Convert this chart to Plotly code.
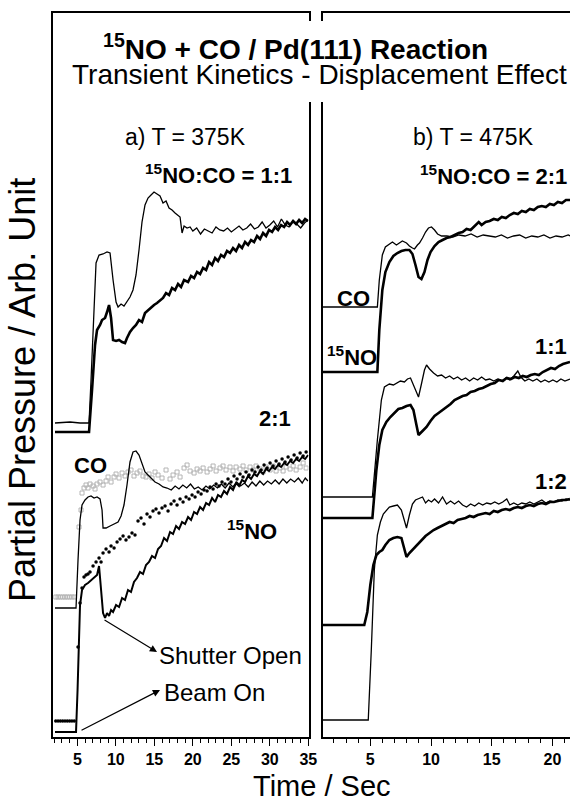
import plotly.graph_objects as go

# ---------------- data (time in s, partial pressure in arb. units) ----------------
# Panel a) T = 375K, 15NO:CO = 1:1
L11_CO_t = [2.10, 4.05, 5.35, 6.52, 6.78, 7.17, 7.43, 7.82, 8.34, 8.86, 9.25, 9.64, 10.03, 10.29, 10.68, 11.06,
            11.45, 11.84, 12.23, 12.62, 13.01, 13.40, 13.79, 14.18, 14.57, 14.96, 15.35, 15.74, 16.13, 16.52,
            16.91, 17.30, 17.69, 18.08, 18.34, 18.60, 18.86, 19.25, 19.64, 20.0, 20.5, 21.0, 21.5, 22.0, 22.5,
            23.0, 23.5, 24.0, 24.5, 25.0, 25.5, 26.0, 26.5, 27.0, 27.5, 28.0, 28.5, 29.0, 29.5, 30.0, 30.5,
            31.0, 31.5, 32.0, 32.5, 33.0, 33.5, 34.0, 34.5, 34.95]
L11_CO_v = [31.4, 31.5, 31.4, 31.4, 35.7, 43.7, 47.4, 48.2, 48.3, 48.5, 48.4, 45.7, 43.5, 43.0, 43.3, 43.1,
            43.5, 44.0, 44.7, 46.2, 48.7, 51.5, 53.2, 53.9, 54.2, 54.5, 54.3, 54.1, 53.4, 53.6,
            52.9, 52.7, 52.4, 52.2, 52.0, 50.4, 51.1, 50.9, 51.0, 50.6, 50.9, 50.3, 50.8, 50.6, 50.4,
            51.0, 50.7, 50.6, 50.9, 50.5, 50.8, 51.1, 50.7, 50.9, 51.3, 50.8, 51.0, 51.5, 50.9, 51.2, 51.6,
            51.0, 51.8, 51.2, 51.0, 51.6, 51.3, 50.9, 51.4, 51.7]

L11_NO_t = [2.10, 6.52, 6.91, 7.30, 7.56, 7.95, 8.21, 8.60, 8.86, 9.12, 9.38, 9.64, 10.03, 10.42, 10.81, 11.19,
            11.45, 11.84, 12.23, 12.62, 13.01, 13.40, 13.79, 14.18, 14.57, 14.96, 15.35, 15.74, 16.13, 16.52,
            16.91, 17.30, 17.69, 18.08, 18.47, 18.86, 19.38, 19.77, 20.16, 20.55, 20.94, 21.33, 21.72, 22.11,
            22.50, 22.89, 23.27, 23.66, 24.05, 24.44, 24.83, 25.22, 25.61, 26.00, 26.39, 26.78, 27.17, 27.56,
            27.95, 28.34, 28.73, 29.12, 29.51, 29.90, 30.29, 30.68, 31.07, 31.46, 31.85, 32.24, 32.63, 33.02,
            33.41, 33.80, 34.19, 34.58, 34.97]
L11_NO_v = [30.5, 30.5, 34.7, 39.2, 40.7, 41.2, 41.7, 41.9, 42.5, 43.2, 41.9, 39.7, 39.6, 39.7, 39.5, 39.4,
            39.9, 40.5, 40.9, 41.2, 41.7, 41.5, 42.4, 42.7, 43.0, 43.2, 43.4, 43.7, 43.9, 44.4,
            44.2, 44.9, 44.7, 45.3, 45.0, 45.7, 45.5, 46.1, 45.9, 46.5, 46.3, 46.9, 46.7, 47.5,
            47.2, 47.9, 47.6, 48.2, 48.0, 48.6, 48.4, 48.9, 48.6, 49.2, 48.9, 49.5, 49.2, 49.7,
            49.5, 50.1, 49.8, 50.4, 50.1, 50.7, 50.5, 51.0, 50.7, 51.2, 51.0, 51.5, 51.2, 51.6,
            51.3, 51.7, 51.4, 51.8, 51.6]

# Panel a) 15NO:CO = 2:1
L21_CO_t = [2.10, 4.83, 5.09, 5.35, 5.61, 6.00, 6.39, 6.78, 7.17, 7.56, 7.95, 8.21, 8.34, 8.73, 9.25, 9.77,
            10.29, 10.68, 11.06, 11.45, 11.84, 12.23, 12.62, 13.01, 13.40, 13.79, 14.18, 14.57, 15.09, 15.61,
            16.13, 16.65, 17.2, 17.7, 18.2, 18.7, 19.2, 19.7, 20.2, 20.7, 21.2, 21.7, 22.2, 22.7, 23.2, 23.7,
            24.2, 24.7, 25.2, 25.7, 26.2, 26.7, 27.2, 27.7, 28.2, 28.7, 29.2, 29.7, 30.2, 30.7, 31.2, 31.7,
            32.2, 32.7, 33.2, 33.7, 34.2, 34.6, 34.95]
L21_CO_v = [12.9, 12.9, 17.7, 21.7, 23.2, 23.7, 24.0, 24.1, 23.9, 24.0, 23.8, 22.7, 20.9, 20.9, 21.1, 21.3,
            21.5, 22.1, 23.2, 25.2, 27.5, 28.5, 28.6, 28.2, 27.4, 26.5, 26.2, 25.9, 25.5, 25.3,
            25.0, 24.9, 24.7, 25.1, 24.8, 25.2, 24.9, 25.3, 24.8, 25.0, 24.7, 25.1, 24.8, 25.2, 24.9, 25.3,
            24.9, 25.4, 25.0, 25.5, 25.1, 25.4, 25.0, 25.5, 25.1, 25.6, 25.2, 25.6, 25.3, 25.7, 25.3, 25.8,
            25.4, 25.8, 25.5, 25.9, 25.4, 25.9, 25.6]

L21_COpts_t = [2.2, 2.5, 2.8, 3.1, 3.4, 3.7, 4.0, 4.3, 4.6, 5.22, 5.48, 5.61, 5.87, 6.13, 6.39, 6.65, 7.04,
               7.30, 7.56, 7.95, 8.34, 8.73, 8.99, 9.38, 9.77, 10.03, 10.42, 10.81, 11.20, 11.58, 11.97,
               12.36, 12.75, 13.14, 13.53, 13.92, 14.31, 14.70, 15.09, 15.48, 16.00, 16.52, 17.04, 17.43,
               17.95, 18.34, 18.86, 19.25, 19.64, 20.16, 20.55, 20.94, 21.33, 21.85, 22.24, 22.63, 23.02,
               23.53, 23.92, 24.31, 24.83, 25.22, 25.61, 26.13, 26.52, 26.91, 27.43, 27.82, 28.21, 28.73,
               29.12, 29.51, 30.03, 30.42, 30.81, 31.33, 31.72, 32.11, 32.63, 33.02, 33.41, 33.93, 34.32, 34.71]
L21_COpts_v = [14.0, 14.0, 14.0, 14.0, 14.0, 14.0, 14.0, 14.0, 14.0, 21.0, 22.7, 24.4, 24.9, 25.2, 24.9, 25.3,
               25.1, 24.8, 25.3, 25.5, 25.2, 25.6, 26.0, 25.5, 26.0, 26.3, 25.9, 26.4, 26.1, 26.5, 26.7,
               26.1, 26.4, 26.6, 26.1, 26.0, 26.3, 25.9, 26.5, 26.2, 25.9, 26.7, 25.8, 26.2, 26.5, 26.0,
               26.9, 27.2, 26.6, 26.4, 26.8, 26.6, 26.9, 26.5, 26.8, 27.1, 26.6, 26.9, 27.1, 26.7, 27.0,
               26.6, 27.0, 26.8, 27.1, 26.7, 27.0, 26.7, 27.1, 26.8, 26.5, 27.0, 26.7, 27.1, 26.6, 26.9,
               26.6, 27.0, 26.8, 27.1, 26.7, 27.0, 27.4, 26.9]

L21_NO_t = [2.10, 4.83, 5.03, 5.22, 5.35, 5.61, 6.00, 6.39, 6.78, 7.17, 7.56, 7.82, 8.08, 8.34, 8.60, 8.86,
            9.12, 9.38, 9.64, 10.03, 10.42, 10.81, 11.19, 11.58, 11.97, 12.36, 12.75, 13.14, 13.53, 13.92,
            14.31, 14.70, 15.09, 15.48, 15.87, 16.26, 16.65, 17.04, 17.43, 17.82, 18.21, 18.60, 18.99, 19.38,
            19.77, 20.16, 20.55, 20.94, 21.33, 21.72, 22.11, 22.50, 22.89, 23.27, 23.66, 24.05, 24.44, 24.83,
            25.22, 25.61, 26.00, 26.39, 26.78, 27.17, 27.56, 27.95, 28.34, 28.73, 29.12, 29.51, 29.90, 30.29,
            30.68, 31.07, 31.46, 31.85, 32.24, 32.63, 33.02, 33.41, 33.80, 34.19, 34.58, 34.97]
L21_NO_v = [0.5, 0.5, 4.7, 9.7, 13.2, 14.7, 15.2, 15.4, 15.7, 15.9, 16.2, 17.1, 14.7, 12.4, 11.9, 12.4,
            12.1, 12.7, 12.5, 13.2, 13.0, 13.9, 13.7, 14.7, 14.5, 15.5, 15.9, 16.5, 16.3, 17.2,
            17.5, 18.1, 17.9, 18.8, 19.1, 19.9, 19.6, 20.5, 20.3, 21.1, 20.8, 21.5, 21.3, 22.0,
            21.7, 22.5, 22.3, 23.0, 22.7, 23.4, 23.2, 23.9, 23.5, 24.2, 24.0, 24.6, 24.3, 25.0,
            24.7, 25.4, 25.1, 25.7, 25.5, 26.1, 25.8, 26.3, 26.1, 26.6, 26.3, 26.8, 26.6, 27.0,
            26.8, 27.2, 27.0, 27.4, 27.2, 27.6, 27.4, 27.8, 27.6, 28.0, 27.8, 28.2]

L21_NOpts_t = [2.2, 2.5, 2.8, 3.1, 3.4, 3.7, 4.0, 4.3, 4.6, 5.09, 5.35, 5.61, 5.87, 6.13, 6.39, 6.65, 7.04,
               7.43, 7.82, 8.08, 8.34, 8.73, 9.12, 9.38, 9.77, 10.16, 10.55, 10.94, 11.32, 11.71, 12.10,
               12.49, 12.88, 13.27, 13.66, 14.05, 14.44, 14.83, 15.22, 15.61, 16.00, 16.39, 16.78, 17.17,
               17.56, 17.95, 18.34, 18.73, 19.12, 19.51, 19.90, 20.29, 20.68, 21.07, 21.46, 21.85, 22.24,
               22.63, 23.02, 23.40, 23.79, 24.18, 24.57, 24.96, 25.35, 25.74, 26.13, 26.52, 26.91, 27.30,
               27.69, 28.08, 28.47, 28.86, 29.25, 29.64, 30.03, 30.42, 30.81, 31.20, 31.59, 31.98, 32.37,
               32.76, 33.15, 33.54, 33.93, 34.32, 34.71]
L21_NOpts_v = [1.6, 1.6, 1.6, 1.6, 1.6, 1.6, 1.6, 1.6, 1.6, 9.0, 13.4, 14.9, 16.0, 16.2, 16.3, 16.5, 17.1,
               17.5, 17.9, 17.5, 18.4, 18.8, 18.5, 19.1, 18.9, 19.5, 19.8, 20.1, 19.7, 20.0, 20.4,
               20.2, 21.6, 21.9, 21.3, 22.3, 22.0, 22.6, 22.8, 22.4, 22.9, 23.1, 22.6, 23.3,
               23.6, 23.2, 23.8, 23.5, 24.0, 23.8, 24.2, 24.0, 24.5, 24.3, 24.7, 24.6, 25.0,
               24.8, 25.3, 25.1, 25.5, 25.3, 25.8, 25.5, 26.1, 25.8, 26.3, 26.0, 26.5, 26.2,
               26.7, 26.5, 27.0, 26.7, 27.2, 26.9, 27.4, 27.1, 27.6, 27.3, 27.8, 27.5, 28.0,
               27.7, 28.2, 27.9, 28.4, 28.1, 28.5]

# Panel b) T = 475K, 15NO:CO = 2:1
R21_CO_t = [1.03, 5.58, 5.74, 5.99, 6.24, 6.57, 6.82, 7.15, 7.40, 7.64, 7.98, 8.22, 8.47, 8.64, 8.88, 9.05,
            9.30, 9.55, 9.79, 10.04, 10.29, 10.54, 10.87, 11.3, 11.8, 12.3, 12.8, 13.3, 13.8, 14.3, 14.8,
            15.3, 15.8, 16.3, 16.8, 17.3, 17.8, 18.3, 18.8, 19.3, 19.8, 20.3, 20.8, 21.3, 21.5]
R21_CO_v = [43.0, 43.0, 45.7, 48.2, 49.0, 49.3, 49.5, 49.2, 49.4, 49.6, 49.4, 49.1, 48.9, 48.8, 49.2, 49.4,
            49.9, 50.5, 50.9, 51.0, 50.7, 50.3, 50.1, 50.1, 50.0, 50.2, 50.1, 50.3, 50.0, 50.2, 50.1,
            50.0, 50.2, 49.9, 50.1, 50.2, 49.9, 50.1, 50.0, 50.2, 49.9, 50.1, 50.0, 50.2, 50.1]

R21_NO_t = [1.03, 5.58, 5.74, 5.99, 6.24, 6.57, 6.90, 7.23, 7.56, 7.89, 8.22, 8.47, 8.72, 8.97, 9.21, 9.46,
            9.71, 9.96, 10.29, 10.62, 10.95, 11.28, 11.61, 11.94, 12.28, 12.60, 12.93, 13.26, 13.60, 13.93,
            14.17, 14.50, 14.83, 15.17, 15.50, 15.83, 16.16, 16.49, 16.82, 17.15, 17.48, 17.81, 18.14, 18.47,
            18.80, 19.13, 19.46, 19.79, 20.12, 20.45, 20.79, 21.12, 21.45]
R21_NO_v = [36.5, 36.5, 40.7, 44.7, 46.5, 47.5, 48.1, 48.4, 48.6, 48.7, 48.7, 48.3, 47.2, 46.0, 45.8, 46.5,
            47.7, 48.5, 49.1, 49.5, 49.7, 49.9, 50.0, 50.2, 50.4, 50.5, 50.8, 50.7, 51.1, 51.5,
            51.2, 51.5, 51.6, 51.8, 51.7, 52.0, 51.9, 52.2, 52.4, 52.3, 52.6, 52.5, 52.8, 52.7,
            53.0, 53.1, 53.0, 53.3, 53.2, 53.5, 53.4, 53.7, 53.7]

# Panel b) 15NO:CO = 1:1
R11_CO_t = [1.03, 5.17, 5.58, 5.91, 6.16, 6.57, 6.90, 7.15, 7.48, 7.81, 8.06, 8.31, 8.55, 8.80, 8.97, 9.21,
            9.46, 9.63, 9.88, 10.21, 10.54, 10.87, 11.20, 11.53, 11.86, 12.19, 12.52, 12.85, 13.18, 13.51,
            13.84, 14.17, 14.50, 14.83, 15.17, 15.50, 15.83, 16.16, 16.49, 16.82, 17.15, 17.40, 17.73, 18.06,
            18.39, 18.72, 19.05, 19.38, 19.71, 20.04, 20.37, 20.70, 21.03, 21.45]
R11_CO_v = [24.0, 24.0, 29.7, 33.7, 35.0, 35.3, 35.2, 35.4, 35.6, 35.5, 35.8, 35.9, 35.2, 34.5, 34.0, 35.3,
            36.7, 37.2, 36.8, 36.4, 36.1, 36.2, 35.9, 36.1, 35.8, 36.0, 35.7, 35.9, 35.6, 35.9,
            35.7, 36.0, 35.7, 35.8, 35.6, 35.8, 35.6, 35.9, 35.7, 36.1, 36.6, 36.0, 35.6, 35.8,
            35.6, 35.8, 35.5, 35.7, 35.5, 35.7, 35.5, 35.8, 35.6, 35.8]

R11_NO_t = [1.03, 5.17, 5.50, 5.74, 5.99, 6.32, 6.65, 6.98, 7.31, 7.64, 7.98, 8.31, 8.55, 8.80, 8.97, 9.30,
            9.63, 9.96, 10.29, 10.62, 10.95, 11.28, 11.61, 11.94, 12.27, 12.60, 12.93, 13.26, 13.60, 13.93,
            14.26, 14.59, 14.92, 15.25, 15.58, 15.91, 16.24, 16.57, 16.90, 17.23, 17.56, 17.89, 18.22, 18.55,
            18.88, 19.21, 19.55, 19.88, 20.21, 20.54, 20.87, 21.20, 21.45]
R11_NO_v = [21.9, 21.9, 26.7, 29.2, 30.7, 31.5, 32.0, 32.4, 32.8, 32.9, 33.1, 33.2, 32.7, 31.2, 30.2, 30.6,
            31.0, 31.6, 32.1, 32.4, 32.7, 33.0, 33.3, 33.7, 33.9, 34.1, 34.2, 34.5, 34.6, 34.8,
            34.9, 35.1, 35.3, 35.4, 35.7, 35.6, 35.9, 35.8, 36.0, 35.9, 36.1, 36.0, 36.2, 36.3,
            36.2, 36.5, 36.7, 36.9, 36.8, 37.1, 37.3, 37.4, 37.5]

# Panel b) 15NO:CO = 1:2
R12_CO_t = [1.03, 4.83, 5.08, 5.33, 5.58, 5.83, 6.07, 6.32, 6.57, 6.90, 7.23, 7.56, 7.81, 7.98, 8.22, 8.47,
            8.72, 9.05, 9.30, 9.55, 9.79, 10.04, 10.29, 10.62, 10.95, 11.28, 11.61, 11.94, 12.27, 12.60,
            12.93, 13.26, 13.60, 13.93, 14.26, 14.59, 14.92, 15.25, 15.58, 15.91, 16.24, 16.49, 16.82, 17.15,
            17.48, 17.81, 18.14, 18.47, 18.80, 19.13, 19.46, 19.79, 20.12, 20.45, 20.79, 21.12, 21.45]
R12_CO_v = [1.7, 1.7, 8.7, 16.7, 20.2, 21.5, 22.3, 22.7, 23.0, 23.1, 23.2, 22.7, 21.7, 20.9, 22.2, 23.3,
            23.7, 23.9, 24.0, 23.4, 23.7, 23.5, 23.8, 23.4, 24.0, 23.3, 23.6, 23.3, 23.6, 23.2,
            23.0, 23.3, 23.1, 23.4, 23.2, 23.4, 23.3, 23.5, 23.3, 23.5, 23.8, 23.2, 23.4, 23.2,
            23.4, 23.3, 23.5, 23.3, 23.5, 23.7, 23.4, 23.6, 23.5, 23.7, 23.6, 23.8, 23.7]

R12_NO_t = [1.03, 4.50, 4.75, 5.00, 5.25, 5.50, 5.74, 5.99, 6.24, 6.57, 6.90, 7.23, 7.56, 7.81, 7.98, 8.22,
            8.55, 8.88, 9.21, 9.55, 9.88, 10.21, 10.54, 10.87, 11.20, 11.53, 11.86, 12.19, 12.52, 12.85,
            13.18, 13.51, 13.84, 14.17, 14.50, 14.83, 15.17, 15.50, 15.83, 16.16, 16.49, 16.82, 17.15, 17.48,
            17.81, 18.14, 18.47, 18.80, 19.13, 19.46, 19.79, 20.12, 20.45, 20.79, 21.12, 21.45]
R12_NO_v = [11.2, 11.2, 12.5, 15.2, 17.2, 18.2, 18.5, 18.7, 19.2, 19.7, 19.9, 20.0, 19.9, 18.9, 18.0, 18.4,
            18.8, 19.3, 19.7, 20.1, 20.4, 20.7, 20.9, 21.1, 21.3, 21.5, 21.4, 21.7, 21.8, 21.9,
            22.1, 22.0, 22.2, 22.3, 22.4, 22.3, 22.6, 22.5, 22.7, 22.8, 22.7, 22.9, 23.0, 22.9,
            23.1, 23.2, 23.1, 23.3, 23.4, 23.3, 23.5, 23.5, 23.6, 23.7, 23.7, 23.8]

LEFT_TICKS = [5, 10, 15, 20, 25, 30, 35]
RIGHT_TICKS = [5, 10, 15, 20]

# ---------------- figure ----------------
W, H = 570, 805
FONT = "Liberation Sans"


def px(x):
    return x / W


def py(y):
    return 1 - y / H


fig = go.Figure()
THIN = dict(color="black", width=1.3)
THICK = dict(color="black", width=2.6)

fig.add_trace(go.Scatter(x=L11_CO_t, y=L11_CO_v, mode="lines", line=THIN, xaxis="x", yaxis="y"))
fig.add_trace(go.Scatter(x=L11_NO_t, y=L11_NO_v, mode="lines", line=THICK, xaxis="x", yaxis="y"))
fig.add_trace(go.Scatter(x=L21_COpts_t, y=L21_COpts_v, mode="markers", xaxis="x", yaxis="y",
                         marker=dict(symbol="square-open", size=4, color="#b4b4b4", line=dict(width=1))))
fig.add_trace(go.Scatter(x=L21_NOpts_t, y=L21_NOpts_v, mode="markers", xaxis="x", yaxis="y",
                         marker=dict(symbol="circle", size=3.5, color="black")))
fig.add_trace(go.Scatter(x=L21_CO_t, y=L21_CO_v, mode="lines", line=THIN, xaxis="x", yaxis="y"))
fig.add_trace(go.Scatter(x=L21_NO_t, y=L21_NO_v, mode="lines", line=dict(color="black", width=2.0),
                         xaxis="x", yaxis="y"))

for t, v, ln in [(R21_CO_t, R21_CO_v, THIN), (R21_NO_t, R21_NO_v, THICK),
                 (R11_CO_t, R11_CO_v, THIN), (R11_NO_t, R11_NO_v, THICK),
                 (R12_CO_t, R12_CO_v, THIN), (R12_NO_t, R12_NO_v, THICK)]:
    fig.add_trace(go.Scatter(x=t, y=v, mode="lines", line=ln, xaxis="x2", yaxis="y2"))

ydom = [68 / H, 792 / H]
axis_common = dict(showgrid=False, zeroline=False, showline=True, linecolor="black", linewidth=1.6,
                   automargin=False)
xcommon = dict(axis_common, ticks="outside", ticklen=7, tickwidth=1.3, tickcolor="black",
               tickfont=dict(family=FONT, size=16, color="black", weight="bold"),
               minor=dict(dtick=1, tick0=0, ticks="outside", ticklen=4, tickwidth=1.2, tickcolor="black"),
               mirror=True)

fig.update_layout(
    template="none",
    width=W, height=H, margin=dict(l=0, r=0, t=0, b=0, autoexpand=False),
    paper_bgcolor="white", plot_bgcolor="white", showlegend=False,
    font=dict(family=FONT, color="black"),
    xaxis=dict(xcommon, domain=[53.3 / W, 308.5 / W], range=[1.88, 35.02], tickvals=LEFT_TICKS,
               ticktext=[str(v) for v in LEFT_TICKS]),
    xaxis2=dict(xcommon, domain=[322.5 / W, 1.0], range=[1.06, 21.45], tickvals=RIGHT_TICKS,
                ticktext=[str(v) for v in RIGHT_TICKS], anchor="y2"),
    yaxis=dict(axis_common, domain=ydom, range=[0, 72.4], showticklabels=False, ticks="", mirror=True),
    yaxis2=dict(axis_common, domain=ydom, range=[0, 72.4], showticklabels=False, ticks="",
                anchor="x2", mirror=False),
)

# white block hiding the panel gap behind the title
fig.add_shape(type="rect", xref="paper", yref="paper", x0=px(298), x1=px(334), y0=py(21), y1=py(102),
              fillcolor="white", line=dict(width=0), layer="above")

ann = []


def text(x, y, s, size, bold=False, anchor="center", angle=0):
    ann.append(dict(xref="paper", yref="paper", x=px(x), y=py(y), text=s, showarrow=False,
                    xanchor=anchor, yanchor="middle", textangle=angle,
                    font=dict(family=FONT, size=size, color="black", weight="bold" if bold else "normal")))


text(295, 47, "<sup>15</sup>NO + CO / Pd(111) Reaction", 28, bold=True)
text(319, 75, "Transient Kinetics - Displacement Effect", 28)
text(185, 137, "a) T = 375K", 23)
text(143, 174, "<sup>15</sup>NO:CO = 1:1", 22, bold=True, anchor="left")
text(257, 418, "2:1", 22, bold=True, anchor="left")
text(72, 465, "CO", 22, bold=True, anchor="left")
text(225, 530, "<sup>15</sup>NO", 22, bold=True, anchor="left")
text(157, 655, "Shutter Open", 24, anchor="left")
text(162, 692, "Beam On", 24, anchor="left")
text(473, 137, "b) T = 475K", 23)
text(569, 175, "<sup>15</sup>NO:CO = 2:1", 22, bold=True, anchor="right")
text(335, 298, "CO", 22, bold=True, anchor="left")
text(325, 356, "<sup>15</sup>NO", 22, bold=True, anchor="left")
text(569, 346, "1:1", 22, bold=True, anchor="right")
text(569, 482, "1:2", 22, bold=True, anchor="right")
text(322, 786, "Time / Sec", 29)
text(22, 390, "Partial Pressure / Arb. Unit", 36, angle=-90)

# arrows (tail at the trace, head at the label)
for hx, hy, tx, ty in [(15.35, 8.5, 8.34, 11.8), (15.74, 4.7, 5.35, 0.6)]:
    ann.append(dict(xref="x", yref="y", axref="x", ayref="y", x=hx, y=hy, ax=tx, ay=ty, text="",
                    showarrow=True, arrowhead=2, arrowsize=1.2, arrowwidth=1.2, arrowcolor="black"))

fig.update_layout(annotations=ann)
fig.write_html("out.html",
               post_script="document.body.style.margin='0';document.body.style.overflow='hidden';")
